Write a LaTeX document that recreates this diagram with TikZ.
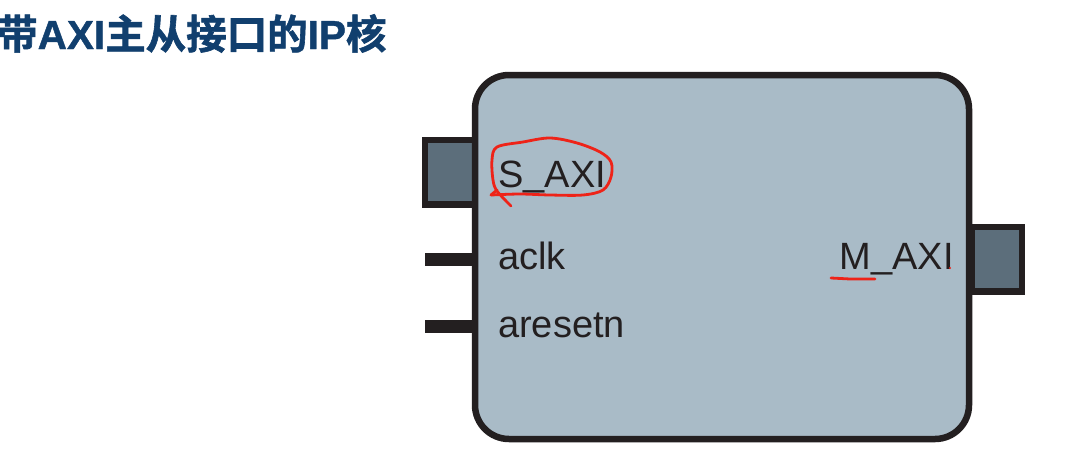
\documentclass[tikz,border=0pt]{standalone}
\usepackage{fontspec}
\setmainfont{Liberation Sans}
\newfontfamily\cjk{Noto Sans CJK SC Bold}[FakeBold=1.5]
\newfontfamily\latinbold{Liberation Sans Bold}[FakeBold=1]
\definecolor{bodyfill}{HTML}{A9BBC7}
\definecolor{portfill}{HTML}{5C6E7B}
\definecolor{edge}{HTML}{231F20}
\definecolor{titleblue}{HTML}{113F6E}
\definecolor{pen}{HTML}{EE2318}
\tikzset{
  portbox/.style={draw=edge,fill=portfill,line width=6.5pt,line join=miter},
  ipbody/.style={draw=edge,fill=bodyfill,line width=6.5pt,rounded corners=34pt},
  pin/.style={draw=edge,line width=13pt},
  lbl/.style={font=\fontsize{38}{38}\selectfont,text=edge,inner sep=0pt,anchor=base west},
  ink/.style={draw=pen,line width=2.8pt,line cap=round,line join=round}
}
\newcommand{\lowbar}{\raisebox{2pt}{\_}}
\begin{document}
\begin{tikzpicture}[x=1pt,y=-1pt]
\useasboundingbox (0,0) rectangle (1078,453);
\fill[white] (0,0) rectangle (1078,453);
\node[inner sep=0pt,anchor=base west,text=titleblue,font=\fontsize{40.5}{40.5}\selectfont] (title) at (-3,49) {{\cjk 带}{\latinbold AXI}{\cjk 主从接口的}{\latinbold IP}{\cjk 核}};
\node[portbox,inner sep=0pt] (sport) at (450,172) {\rule{0pt}{64.5pt}\rule{50pt}{0pt}};
\node[portbox,inner sep=0pt] (mport) at (997,259) {\rule{0pt}{64.5pt}\rule{50pt}{0pt}};
\coordinate (clkend) at (425,259);
\coordinate (rstend) at (425,326);
\coordinate (clkin) at (475,259);
\coordinate (rstin) at (475,326);
\draw[pin] (clkend) -- (clkin);
\draw[pin] (rstend) -- (rstin);
\node[ipbody,minimum width=494pt,minimum height=364pt,inner sep=0pt] (ip) at (722,257) {};
\node[lbl] (saxi) at (498,187) {S\lowbar AXI};
\node[lbl] (aclk) at (498,269) {aclk};
\node[lbl] (aresetn) at (498,337) {aresetn};
\node[lbl,anchor=base east] (maxi) at (954,269) {M\lowbar AXI};
\draw[ink] plot[smooth,tension=0.55] coordinates {(491,195) (520,194) (550,195) (583,195) (603,190) (611,177) (611,162) (600,152) (577,143) (550,138) (523,142) (497,147) (492,160) (493,180) (497,191) (511,206)};
\draw[ink] (497,190) -- (491,195);
\draw[ink] (831,278) -- (850,279) -- (875,279);
\fill[pen] (950,268) circle (1.2pt);
\end{tikzpicture}
\end{document}
